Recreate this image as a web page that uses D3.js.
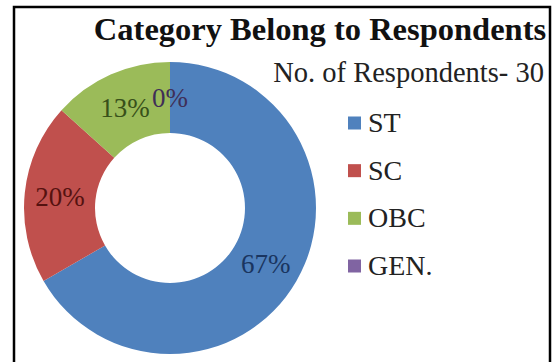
<!DOCTYPE html>
<html><head><meta charset="utf-8">
<script src="https://cdn.jsdelivr.net/npm/d3@7"></script>
<style>html,body{margin:0;padding:0;background:#fff;}</style>
</head><body>
<script>
const categories = ["ST", "SC", "OBC", "GEN."];
const counts = [20, 6, 4, 0];
const percentLabels = ["67%", "20%", "13%", "0%"];
const colors = ["#4F81BD", "#C0504D", "#9BBB59", "#8064A2"];
const labelColors = ["#1A3560", "#551210", "#38501A", "#3F2F57"];
const title = "Category Belong to Respondents";
const subtitle = "No. of Respondents- 30";

const W = 552, H = 362;
const svg = d3.select("body").append("svg").attr("width", W).attr("height", H)
  .style("font-family", "'Liberation Serif','Times New Roman',serif");
svg.append("rect").attr("width", W).attr("height", H).attr("fill", "#fff");
svg.append("rect").attr("x", 14).attr("y", 7).attr("width", 536).attr("height", 380)
  .attr("fill", "none").attr("stroke", "#000").attr("stroke-width", 2.5);

const cx = 170, cy = 208, R = 146, r = 75;
const pie = d3.pie().sort(null).value(d => d)(counts);
const arc = d3.arc().innerRadius(r).outerRadius(R);
const g = svg.append("g").attr("transform", `translate(${cx},${cy})`);
g.selectAll("path").data(pie).enter().append("path")
  .attr("d", arc).attr("fill", (d, i) => colors[i]);
g.selectAll("text").data(pie).enter().append("text")
  .attr("transform", d => `translate(${arc.centroid(d)})`)
  .attr("text-anchor", "middle").attr("dy", "0.35em")
  .attr("font-size", 27).attr("fill", (d, i) => labelColors[i])
  .text((d, i) => percentLabels[i]);

svg.append("text").attr("x", 320).attr("y", 40).attr("text-anchor", "middle")
  .attr("font-size", 32.5).attr("font-weight", "bold").attr("fill", "#111").text(title);
svg.append("text").attr("x", 544).attr("y", 82).attr("text-anchor", "end")
  .attr("font-size", 28.5).attr("fill", "#222").text(subtitle);

const ly = d3.scalePoint().domain(categories).range([123, 266]);
const leg = svg.append("g");
categories.forEach((c, i) => {
  leg.append("rect").attr("x", 348).attr("y", ly(c) - 6.5).attr("width", 13).attr("height", 13)
    .attr("fill", colors[i]);
  leg.append("text").attr("x", 368).attr("y", ly(c) + 9).attr("font-size", 28)
    .attr("fill", "#222").text(c);
});
</script>
</body></html>
